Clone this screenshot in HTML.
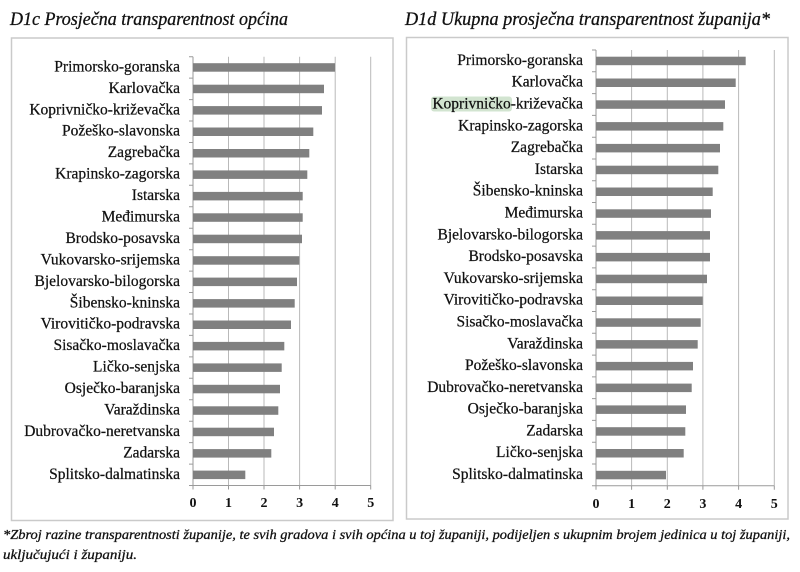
<!DOCTYPE html>
<html>
<head>
<meta charset="utf-8">
<style>
html,body{margin:0;padding:0;background:#fff;}
svg{display:block;}
.t{font-family:"Liberation Serif",serif;font-style:italic;font-size:19px;fill:#111;stroke:#111;stroke-width:0.3;}
.l{font-family:"Liberation Serif",serif;font-size:15.5px;fill:#111;stroke:#111;stroke-width:0.25;text-anchor:end;}
.n{font-family:"Liberation Serif",serif;font-size:14px;font-weight:bold;fill:#111;text-anchor:middle;}
.f{font-family:"Liberation Serif",serif;font-style:italic;font-size:14px;fill:#111;stroke:#111;stroke-width:0.3;}
.g{stroke:#b9b9b9;stroke-width:1;}
.a{stroke:#9a9a9a;stroke-width:1;}
.b{fill:#808080;}
</style>
</head>
<body>
<svg width="800" height="572" viewBox="0 0 800 572" xmlns="http://www.w3.org/2000/svg">
<rect width="800" height="572" fill="#fff"/>

<text class="t" x="10" y="25" textLength="278" lengthAdjust="spacingAndGlyphs">D1c Prosječna transparentnost općina</text>
<text class="t" x="405" y="25" textLength="365" lengthAdjust="spacingAndGlyphs">D1d Ukupna prosječna transparentnost županija*</text>

<rect x="11.5" y="38" width="381.5" height="482.5" fill="none" stroke="#cacaca" stroke-width="1.5"/>
<rect x="406.5" y="37.5" width="381.5" height="481.5" fill="none" stroke="#cacaca" stroke-width="1.5"/>

<g>
<line class="g" x1="228.5" y1="56.7" x2="228.5" y2="485.5"/>
<line class="g" x1="264" y1="56.7" x2="264" y2="485.5"/>
<line class="g" x1="299.6" y1="56.7" x2="299.6" y2="485.5"/>
<line class="g" x1="335.2" y1="56.7" x2="335.2" y2="485.5"/>
<line class="g" x1="370.7" y1="56.7" x2="370.7" y2="485.5"/>
<line class="a" x1="193" y1="56.7" x2="193" y2="485.5"/>
<line class="a" x1="193" y1="485.5" x2="370.7" y2="485.5"/>
<path class="a" d="M189 56.7H193M189 78.1H193M189 99.6H193M189 121H193M189 142.5H193M189 163.9H193M189 185.3H193M189 206.8H193M189 228.2H193M189 249.7H193M189 271.1H193M189 292.5H193M189 314H193M189 335.4H193M189 356.9H193M189 378.3H193M189 399.7H193M189 421.2H193M189 442.6H193M189 464.1H193M189 485.5H193"/>
<path class="a" d="M193 485.5V489.5M228.5 485.5V489.5M264 485.5V489.5M299.6 485.5V489.5M335.2 485.5V489.5M370.7 485.5V489.5"/>

<rect class="b" x="193" y="63.2" width="142" height="8.5"/>
<rect class="b" x="193" y="84.7" width="131" height="8.5"/>
<rect class="b" x="193" y="106.1" width="129" height="8.5"/>
<rect class="b" x="193" y="127.5" width="120.3" height="8.5"/>
<rect class="b" x="193" y="149" width="116.3" height="8.5"/>
<rect class="b" x="193" y="170.4" width="114.3" height="8.5"/>
<rect class="b" x="193" y="191.9" width="109.7" height="8.5"/>
<rect class="b" x="193" y="213.3" width="109.7" height="8.5"/>
<rect class="b" x="193" y="234.7" width="109" height="8.5"/>
<rect class="b" x="193" y="256.2" width="106.3" height="8.5"/>
<rect class="b" x="193" y="277.6" width="104" height="8.5"/>
<rect class="b" x="193" y="299.1" width="101.7" height="8.5"/>
<rect class="b" x="193" y="320.5" width="98" height="8.5"/>
<rect class="b" x="193" y="341.9" width="91.3" height="8.5"/>
<rect class="b" x="193" y="363.4" width="88.7" height="8.5"/>
<rect class="b" x="193" y="384.8" width="87" height="8.5"/>
<rect class="b" x="193" y="406.3" width="85.3" height="8.5"/>
<rect class="b" x="193" y="427.7" width="81" height="8.5"/>
<rect class="b" x="193" y="449.1" width="78.3" height="8.5"/>
<rect class="b" x="193" y="470.6" width="52.3" height="8.5"/>

<text class="l" x="180" y="71.4">Primorsko-goranska</text>
<text class="l" x="180" y="92.9">Karlovačka</text>
<text class="l" x="180" y="114.3">Koprivničko-križevačka</text>
<text class="l" x="180" y="135.7">Požeško-slavonska</text>
<text class="l" x="180" y="157.2">Zagrebačka</text>
<text class="l" x="180" y="178.6">Krapinsko-zagorska</text>
<text class="l" x="180" y="200.1">Istarska</text>
<text class="l" x="180" y="221.5">Međimurska</text>
<text class="l" x="180" y="242.9">Brodsko-posavska</text>
<text class="l" x="180" y="264.4">Vukovarsko-srijemska</text>
<text class="l" x="180" y="285.8">Bjelovarsko-bilogorska</text>
<text class="l" x="180" y="307.3">Šibensko-kninska</text>
<text class="l" x="180" y="328.7">Virovitičko-podravska</text>
<text class="l" x="180" y="350.1">Sisačko-moslavačka</text>
<text class="l" x="180" y="371.6">Ličko-senjska</text>
<text class="l" x="180" y="393">Osječko-baranjska</text>
<text class="l" x="180" y="414.5">Varaždinska</text>
<text class="l" x="180" y="435.9">Dubrovačko-neretvanska</text>
<text class="l" x="180" y="457.3">Zadarska</text>
<text class="l" x="180" y="478.8">Splitsko-dalmatinska</text>

<text class="n" x="193" y="507">0</text>
<text class="n" x="228.5" y="507">1</text>
<text class="n" x="264" y="507">2</text>
<text class="n" x="299.6" y="507">3</text>
<text class="n" x="335.2" y="507">4</text>
<text class="n" x="370.7" y="507">5</text>
</g>

<g>
<line class="g" x1="631.6" y1="50" x2="631.6" y2="485.8"/>
<line class="g" x1="667.3" y1="50" x2="667.3" y2="485.8"/>
<line class="g" x1="702.9" y1="50" x2="702.9" y2="485.8"/>
<line class="g" x1="738.6" y1="50" x2="738.6" y2="485.8"/>
<line class="g" x1="774.3" y1="50" x2="774.3" y2="485.8"/>
<line class="a" x1="596" y1="50" x2="596" y2="485.8"/>
<line class="a" x1="596" y1="485.8" x2="774.3" y2="485.8"/>
<path class="a" d="M592 50H596M592 71.8H596M592 93.6H596M592 115.4H596M592 137.2H596M592 159H596M592 180.7H596M592 202.5H596M592 224.3H596M592 246.1H596M592 267.9H596M592 289.7H596M592 311.5H596M592 333.3H596M592 355.1H596M592 376.9H596M592 398.6H596M592 420.4H596M592 442.2H596M592 464H596M592 485.8H596"/>
<path class="a" d="M596 485.8V489.8M631.6 485.8V489.8M667.3 485.8V489.8M702.9 485.8V489.8M738.6 485.8V489.8M774.3 485.8V489.8"/>

<rect class="b" x="596" y="56.7" width="149.7" height="8.5"/>
<rect class="b" x="596" y="78.5" width="139.7" height="8.5"/>
<rect class="b" x="596" y="100.3" width="129" height="8.5"/>
<rect class="b" x="596" y="122.1" width="127.3" height="8.5"/>
<rect class="b" x="596" y="143.9" width="124" height="8.5"/>
<rect class="b" x="596" y="165.7" width="122.3" height="8.5"/>
<rect class="b" x="596" y="187.5" width="116.7" height="8.5"/>
<rect class="b" x="596" y="209.3" width="115" height="8.5"/>
<rect class="b" x="596" y="231.1" width="114" height="8.5"/>
<rect class="b" x="596" y="252.9" width="114" height="8.5"/>
<rect class="b" x="596" y="274.7" width="111" height="8.5"/>
<rect class="b" x="596" y="296.5" width="106.7" height="8.5"/>
<rect class="b" x="596" y="318.3" width="104.7" height="8.5"/>
<rect class="b" x="596" y="340.1" width="101.7" height="8.5"/>
<rect class="b" x="596" y="361.9" width="97" height="8.5"/>
<rect class="b" x="596" y="383.6" width="95.7" height="8.5"/>
<rect class="b" x="596" y="405.4" width="90" height="8.5"/>
<rect class="b" x="596" y="427.2" width="89.3" height="8.5"/>
<rect class="b" x="596" y="449" width="87.7" height="8.5"/>
<rect class="b" x="596" y="470.8" width="70" height="8.5"/>

<rect x="431" y="96.5" width="81" height="15" rx="3" fill="#d2e4d0"/>

<text class="l" x="583" y="64.9">Primorsko-goranska</text>
<text class="l" x="583" y="86.7">Karlovačka</text>
<text class="l" x="583" y="108.5">Koprivničko-križevačka</text>
<text class="l" x="583" y="130.3">Krapinsko-zagorska</text>
<text class="l" x="583" y="152.1">Zagrebačka</text>
<text class="l" x="583" y="173.9">Istarska</text>
<text class="l" x="583" y="195.7">Šibensko-kninska</text>
<text class="l" x="583" y="217.5">Međimurska</text>
<text class="l" x="583" y="239.3">Bjelovarsko-bilogorska</text>
<text class="l" x="583" y="261.1">Brodsko-posavska</text>
<text class="l" x="583" y="282.9">Vukovarsko-srijemska</text>
<text class="l" x="583" y="304.7">Virovitičko-podravska</text>
<text class="l" x="583" y="326.5">Sisačko-moslavačka</text>
<text class="l" x="583" y="348.3">Varaždinska</text>
<text class="l" x="583" y="370.1">Požeško-slavonska</text>
<text class="l" x="583" y="391.8">Dubrovačko-neretvanska</text>
<text class="l" x="583" y="413.6">Osječko-baranjska</text>
<text class="l" x="583" y="435.4">Zadarska</text>
<text class="l" x="583" y="457.2">Ličko-senjska</text>
<text class="l" x="583" y="479">Splitsko-dalmatinska</text>

<text class="n" x="596" y="508">0</text>
<text class="n" x="631.6" y="508">1</text>
<text class="n" x="667.3" y="508">2</text>
<text class="n" x="702.9" y="508">3</text>
<text class="n" x="738.6" y="508">4</text>
<text class="n" x="774.3" y="508">5</text>
</g>

<text class="f" x="3" y="539" textLength="787" lengthAdjust="spacingAndGlyphs">*Zbroj razine transparentnosti županije, te svih gradova i svih općina u toj županiji, podijeljen s ukupnim brojem jedinica u toj županiji,</text>
<text class="f" x="3" y="559" textLength="134" lengthAdjust="spacingAndGlyphs">uključujući i županiju.</text>
</svg>
</body>
</html>
